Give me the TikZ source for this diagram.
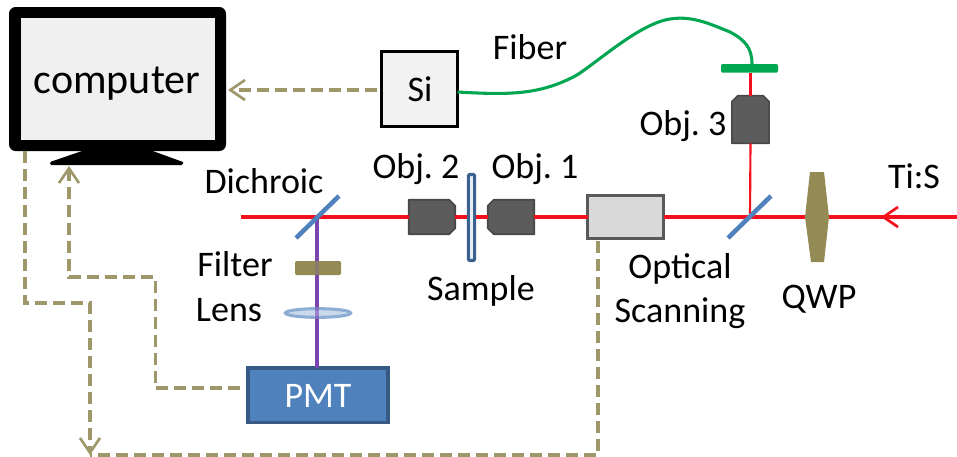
\documentclass[tikz,border=0pt]{standalone}
\usepackage{fontspec}
\setmainfont{Carlito}
\usetikzlibrary{arrows.meta,shapes.geometric}
\frenchspacing
\definecolor{olive}{HTML}{948B54}
\definecolor{ctl}{HTML}{9E9769}
\definecolor{mirror}{HTML}{4F81BD}
\definecolor{beam}{HTML}{F4101C}
\definecolor{fl}{HTML}{7B45B0}
\definecolor{fib}{HTML}{00A650}
\tikzset{
  lbl/.style={inner sep=0pt,anchor=base,font=\fontsize{27}{27}\selectfont},
  ctlline/.style={draw=ctl,line width=2.3pt,dash pattern=on 9pt off 4.5pt},
  barb/.style={-{Straight Barb[length=11pt,width=15pt,line width=2pt]}},
  redray/.style={draw=beam,line width=2.3pt},
  thinray/.style={draw=beam,line width=1.6pt},
  flray/.style={draw=fl,line width=2.3pt},
  mirrorline/.style={draw=mirror,line width=3.4pt},
  objslot/.style={rectangle,inner sep=0pt},
  objfill/.style={draw=black!72,fill=black!64,line width=1.2pt,line join=round},
  box/.style={rectangle,inner sep=0pt,outer sep=0pt,anchor=north west}
}
\begin{document}
\begin{tikzpicture}[x=0.75pt,y=-0.75pt]
\useasboundingbox (0,0) rectangle (957,457);
% monitor
\node[box,fill=black,rounded corners=5pt,minimum width=162.75pt,minimum height=108pt] (mon) at (9,7) {};
\node[box,fill=black!6,minimum width=145.5pt,minimum height=91.5pt] (screen) at (21,18) {};
\fill[black] (85,150) -- (150,150) -- (183,162) [rounded corners=1pt] -- (183,165) -- (50,165) -- (50,162) [sharp corners] -- cycle;
\node[lbl,font=\fontsize{31.5}{31.5}\selectfont] (comp) at (117,93) {computer};
\coordinate (monR) at (228,90);
\coordinate (monL) at (25,151);
\coordinate (monS) at (69,166);
% Si and fibre
\node[box,draw=black,line width=2.3pt,fill=black!5,minimum width=57pt,minimum height=56pt] (si) at (381.5,51.5) {};
\node[lbl] (sit) at (420,101) {Si};
\node[box,fill=fib,rounded corners=1pt,minimum width=42.75pt,minimum height=6.5pt] (coupler) at (721,64) {};
\draw[fib,line width=2.3pt] (si.east|-0,92) .. controls (510,95) and (540,95) .. (577,75)
  .. controls (600,60) and (635,28) .. (665,20)
  .. controls (690,14) and (710,24) .. (730,32)
  .. controls (745,40) and (752,48) .. (752,64);
\node[lbl] (fibt) at (530,59) {Fiber};
% objective 3
\node[objslot,minimum width=27.5pt,minimum height=35.5pt] (ob3) at (750.5,119.5) {};
\filldraw[objfill] (ob3.south west) -- (ob3.south east) -- ([yshift=-4.5pt]ob3.north east) -- ([xshift=-4.5pt]ob3.north east) -- ([xshift=4.5pt]ob3.north west) -- ([yshift=-4.5pt]ob3.north west) -- cycle;
\draw[thinray] (coupler.south-|ob3) -- (ob3.north);
% optical scanning
\node[box,draw=black!65,line width=2.4pt,fill=black!15,minimum width=57pt,minimum height=32pt] (scan) at (587.5,195.5) {};
% QWP
\coordinate (qwpR) at (829,217);
\coordinate (qwpL) at (805,217);
\fill[olive] (810,172) -- (824,172) -- (qwpR) -- (824,262) -- (811,262) -- (qwpL) -- cycle;
% rays
\coordinate (laser) at (957,217);
\coordinate (tip) at (881,217);
\coordinate (bsR) at (750,217);
\coordinate (bsL) at (317,217);
\coordinate (rayEnd) at (241,217);
\draw[redray] (laser) -- (qwpR);
\draw[redray,barb] (laser) -- (tip);
\draw[redray] (qwpL) -- (bsR);
\draw[thinray] (bsR) -- (ob3.south);
\draw[redray] (bsR) -- (scan.east|-bsR);
% objectives 1,2 and sample
\node[objslot,minimum width=34.5pt,minimum height=25.5pt] (ob1) at (511,217) {};
\filldraw[objfill] (ob1.north east) -- (ob1.south east) -- ([xshift=4.5pt]ob1.south west) -- ([yshift=4.5pt]ob1.south west) -- ([yshift=-4.5pt]ob1.north west) -- ([xshift=4.5pt]ob1.north west) -- cycle;
\node[objslot,minimum width=34.5pt,minimum height=25.5pt] (ob2) at (432,217) {};
\filldraw[objfill] (ob2.north west) -- (ob2.south west) -- ([xshift=-4.5pt]ob2.south east) -- ([yshift=4.5pt]ob2.south east) -- ([yshift=-4.5pt]ob2.north east) -- ([xshift=-4.5pt]ob2.north east) -- cycle;
\node[rectangle,draw=mirror!75!black,line width=2.3pt,fill=mirror!15,rounded corners=1pt,inner sep=0pt,minimum width=4.8pt,minimum height=64.5pt] (sample) at (471.5,217.5) {};
\draw[redray] (scan.west|-bsR) -- (ob1.east);
\draw[redray] (ob1.west) -- (sample.east|-bsR);
\draw[redray] (sample.west|-bsR) -- (ob2.east);
\draw[redray] (ob2.west) -- (bsL);
\draw[redray] (bsL) -- (rayEnd);
% mirrors
\coordinate (m1a) at (296,238); \coordinate (m1b) at (339,196);
\coordinate (m2a) at (728,238); \coordinate (m2b) at (771,196);
\draw[mirrorline] (m2a) -- (m2b);
% detection
\node[box,fill=olive,rounded corners=1pt,minimum width=34.5pt,minimum height=10.5pt] (filt) at (295,261) {};
\node[ellipse,draw=mirror!65!white,line width=2.3pt,fill=mirror!30!white,inner sep=0pt,minimum width=49pt,minimum height=6.5pt] (lens) at (318,313) {};
\node[box,draw=mirror!70!black,line width=2.3pt,fill=mirror,minimum width=105pt,minimum height=41pt] (pmt) at (248,368) {};
\node[lbl,text=white] (pmtt) at (318,407) {PMT};
\draw[flray] (bsL) -- (filt.north-|bsL);
\draw[flray] (filt.south-|bsL) -- (lens.north-|bsL);
\draw[flray] (lens.south-|bsL) -- (pmt.north-|bsL);
\draw[flray,opacity=.25] (filt.north-|bsL) -- (filt.south-|bsL);
\draw[flray,opacity=.6] (lens.north-|bsL) -- (lens.south-|bsL);
\draw[mirrorline] (m1a) -- (m1b);
% control lines
\coordinate (scanS) at (598,241);
\coordinate (corner) at (90,455);
\coordinate (pmtOut) at (240,388);
\coordinate (siOut) at (377,90);
\draw[ctlline,barb] (siOut) -- (monR);
\draw[ctlline,barb] (pmtOut) -- (155.5,388) -- (155.5,277) -- (69,277) -- (monS);
\draw[ctlline,barb] (monL) -- (25,303) -- (90,303) -- (corner);
\draw[ctlline] (scanS) -- (598,455) -- (corner);
% labels
\node[lbl] (l1) at (264,193) {Dichroic};
\node[lbl] (l2) at (416,178) {Obj. 2};
\node[lbl] (l3) at (535,178) {Obj. 1};
\node[lbl] (l4) at (683,135) {Obj. 3};
\node[lbl] (l5) at (914,188) {Ti:S};
\node[lbl] (l6) at (235,276) {Filter};
\node[lbl] (l7) at (229,321) {Lens};
\node[lbl] (l8) at (481,300) {Sample};
\node[lbl] (l9) at (680,278) {Optical};
\node[lbl] (l10) at (680,322) {Scanning};
\node[lbl] (l11) at (819,308) {QWP};
\end{tikzpicture}
\end{document}
